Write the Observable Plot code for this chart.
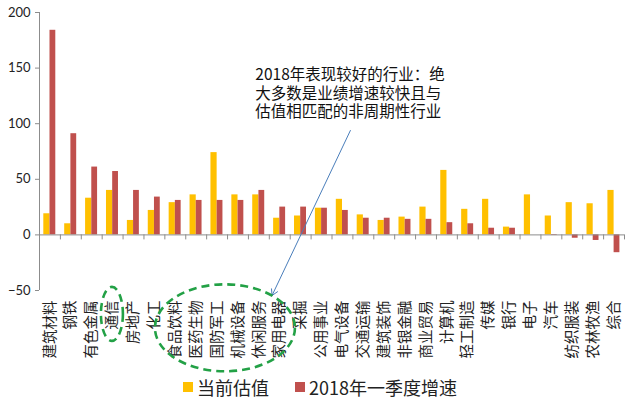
<!DOCTYPE html>
<html>
<head>
<meta charset="utf-8">
<script src="https://cdn.jsdelivr.net/npm/d3@7"></script>
<script src="https://cdn.jsdelivr.net/npm/@observablehq/plot@0.6"></script>
<style>
  body { margin: 0; background: #fff; }
  #wrap { position: relative; width: 640px; height: 403px; overflow: hidden; }
  #legend { position: absolute; left: 0; top: 373px; width: 640px; height: 30px; font-family: "Noto Sans CJK SC", sans-serif; font-size: 18px; color: #222; }
  .sw { position: absolute; width: 10px; height: 10px; top: 9px; }
  .lt { position: absolute; top: 1px; line-height: 26px; white-space: nowrap; }
</style>
</head>
<body>
<div id="wrap"><div id="chart"></div><div id="legend"></div></div>
<script>
const categories = ["建筑材料","钢铁","有色金属","通信","房地产","化工","食品饮料","医药生物","国防军工","机械设备","休闲服务","家用电器","采掘","公用事业","电气设备","交通运输","建筑装饰","非银金融","商业贸易","计算机","轻工制造","传媒","银行","电子","汽车","纺织服装","农林牧渔","综合"];
const valuation = [19,10,33,40,13,22,29,36,74,36,36,15,17,24,32,18,13,16,25,58,23,32,7,36,17,29,28,40];
const growth = [184,91,61,57,40,34,31,31,31,31,40,25,25,24,22,15,15,14,14,11,10,6,6,0,-0.5,-3,-5,-16];
const seriesNames = ["当前估值","2018年一季度增速"];
const seriesColors = ["#FFC000","#C0504D"];
const yTicks = [-50,0,50,100,150,200];
const annotationLines = ["2018年表现较好的行业：绝","大多数是业绩增速较快且与","估值相匹配的非周期性行业"];

const rows = categories.map((c, i) => ({i, c, v: valuation[i], g: growth[i]}));
const font = "'Noto Sans CJK SC', sans-serif";
const axisColor = "#8c8c8c";

const ellipses = [
  {cx: 3.49, cy: -71.5, rx: 11, ry: 27},
  {cx: 8.9, cy: -84, rx: 70, ry: 43.5}
];

const ellipseMark = (index, scales) => {
  const g = d3.create("svg:g");
  for (const e of ellipses) {
    g.append("ellipse")
      .attr("cx", scales.x(e.cx)).attr("cy", scales.y(e.cy))
      .attr("rx", e.rx).attr("ry", e.ry)
      .attr("fill", "none").attr("stroke", "#23A146")
      .attr("stroke-width", 2.6).attr("stroke-dasharray", "8,5");
  }
  return g.node();
};

const chart = Plot.plot({
  width: 640, height: 373,
  marginLeft: 39, marginRight: 16, marginTop: 12, marginBottom: 83,
  x: {type: "linear", domain: [0, categories.length], axis: null},
  y: {domain: [-50, 200], axis: null},
  style: {fontFamily: font, background: "#fff"},
  marks: [
    Plot.rectY(rows, {x1: d => d.i, x2: d => d.i + 1, y: d => d.v, fill: seriesColors[0], insetLeft: 4.3, insetRight: 10.4}),
    Plot.rectY(rows, {x1: d => d.i, x2: d => d.i + 1, y: d => d.g, fill: seriesColors[1], insetLeft: 10.5, insetRight: 4.6}),
    Plot.ruleX([0], {stroke: axisColor}),
    Plot.ruleY([0], {stroke: axisColor}),
    Plot.ruleX(d3.range(categories.length + 1), {x: d => d, y1: 0, y2: -4.5, stroke: axisColor}),
    Plot.axisY({ticks: yTicks, tickSize: 4, tickPadding: 5, fontSize: 13, stroke: axisColor, fill: "#222", fontFamily: "Lato, sans-serif"}),
    Plot.text(categories, {x: (d, i) => i + 0.5, frameAnchor: "bottom", text: d => d, rotate: -90, textAnchor: "end", lineAnchor: "middle", dy: 10, fontSize: 14.5, fill: "#222"}),
    Plot.text([annotationLines.join("\n")], {x: 10.33, y: 128, text: d => d, textAnchor: "start", lineAnchor: "middle", fontSize: 15.5, lineHeight: 1.2, fill: "#111"}),
    Plot.arrow([0], {x1: 14.88, y1: 93.9, x2: 11.13, y2: -54.5, stroke: "#4A7EBB", strokeWidth: 1, headLength: 10, bend: 0}),
    ellipseMark
  ]
});
document.getElementById("chart").append(chart);

const legend = document.getElementById("legend");
const items = [{x: 183, tx: 197}, {x: 295, tx: 309}];
seriesNames.forEach((name, k) => {
  const sw = document.createElement("div");
  sw.className = "sw"; sw.style.left = items[k].x + "px"; sw.style.background = seriesColors[k];
  const t = document.createElement("div");
  t.className = "lt"; t.style.left = items[k].tx + "px"; t.textContent = name;
  legend.append(sw, t);
});
</script>
</body>
</html>
